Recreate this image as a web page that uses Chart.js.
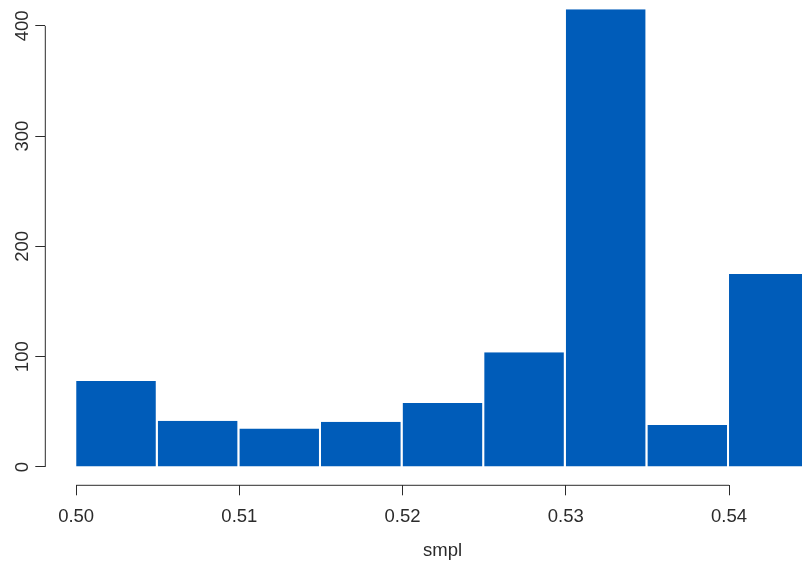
<!DOCTYPE html>
<html>
<head>
<meta charset="utf-8">
<title>Histogram of smpl</title>
<script src="https://cdn.jsdelivr.net/npm/chart.js@4/dist/chart.umd.min.js"></script>
<style>
  html, body { margin: 0; padding: 0; background: #ffffff; overflow: hidden; width: 802px; height: 562px; }
  #wrap { position: absolute; left: 0; top: -9px; width: 840px; height: 571px; }
  canvas { display: block; }
</style>
</head>
<body>
<div id="wrap"><canvas id="hist" width="840" height="571"></canvas></div>
<script>
// Histogram bins of smpl (width 0.005) and their counts
const binEdges = [0.500, 0.505, 0.510, 0.515, 0.520, 0.525, 0.530, 0.535, 0.540, 0.545];
const counts   = [78, 42, 35, 41, 58, 104, 415, 38, 175];
const xTicks   = [0.50, 0.51, 0.52, 0.53, 0.54];
const yTicks   = [0, 100, 200, 300, 400];

const barColor = '#005CB9';
const inkColor = '#2b2b2b';
const fontFamily = "'Liberation Sans', Arial, sans-serif";

// Plot limits with a small margin around the data range
const xRange = binEdges[binEdges.length - 1] - binEdges[0];
const xMin = binEdges[0] - 0.042 * xRange;
const xMax = binEdges[binEdges.length - 1] + 0.04 * xRange;
const yTop = Math.max(...counts);
const yMin = -0.04 * yTop;
const yMax = yTop * 1.04;

const points = counts.map((c, i) => ({ x: (binEdges[i] + binEdges[i + 1]) / 2, y: c }));

// Axis lines that only span the first to last tick
const axisLines = {
  id: 'axisLines',
  afterDraw(chart) {
    const { ctx, chartArea, scales: { x, y } } = chart;
    ctx.save();
    ctx.strokeStyle = inkColor;
    ctx.lineWidth = 1;
    ctx.beginPath();
    ctx.moveTo(x.getPixelForValue(xTicks[0]), chartArea.bottom);
    ctx.lineTo(x.getPixelForValue(xTicks[xTicks.length - 1]), chartArea.bottom);
    ctx.moveTo(chartArea.left, y.getPixelForValue(yTicks[0]));
    ctx.lineTo(chartArea.left, y.getPixelForValue(yTicks[yTicks.length - 1]));
    ctx.stroke();
    ctx.restore();
  }
};

new Chart(document.getElementById('hist'), {
  type: 'bar',
  data: {
    datasets: [{
      data: points,
      backgroundColor: barColor,
      borderColor: '#ffffff',
      borderWidth: { top: 0, right: 2, bottom: 0, left: 0 },
      borderSkipped: false,
      inflateAmount: 0,
      barPercentage: 1,
      categoryPercentage: 1
    }]
  },
  options: {
    responsive: false,
    animation: false,
    layout: { padding: 0 },
    plugins: { legend: { display: false }, tooltip: { enabled: false } },
    scales: {
      x: {
        type: 'linear',
        min: xMin,
        max: xMax,
        offset: false,
        afterBuildTicks: (s) => { s.ticks = xTicks.map(v => ({ value: v })); },
        afterFit: (s) => { s.height = 76.7; s.paddingLeft = 0; s.paddingRight = 0; },
        grid: { offset: false, drawOnChartArea: false, drawTicks: true, tickLength: 10, color: inkColor, lineWidth: 1 },
        border: { display: false },
        ticks: {
          autoSkip: false,
          maxRotation: 0,
          padding: 10.4,
          color: inkColor,
          font: { family: fontFamily, size: 18.5 },
          callback: (v) => Number(v).toFixed(2)
        },
        title: {
          display: true,
          text: 'smpl',
          color: inkColor,
          font: { family: fontFamily, size: 18.5, lineHeight: 1.2 },
          padding: { top: 0, bottom: 0 }
        }
      },
      y: {
        type: 'linear',
        min: yMin,
        max: yMax,
        afterBuildTicks: (s) => { s.ticks = yTicks.map(v => ({ value: v })); },
        afterFit: (s) => { s.width = 45.3; s.paddingTop = 0; s.paddingBottom = 0; },
        grid: { drawOnChartArea: false, drawTicks: true, tickLength: 10, color: inkColor, lineWidth: 1 },
        border: { display: false },
        ticks: {
          autoSkip: false,
          minRotation: 90,
          maxRotation: 90,
          crossAlign: 'center',
          padding: -3.2,
          color: inkColor,
          font: { family: fontFamily, size: 18.5 },
          callback: (v) => String(v)
        }
      }
    }
  },
  plugins: [axisLines]
});
</script>
</body>
</html>
